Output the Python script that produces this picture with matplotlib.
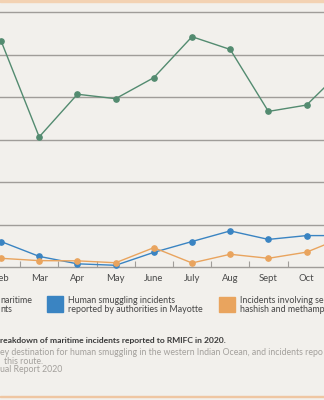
import numpy as np
import matplotlib.pyplot as plt
from matplotlib.patches import Rectangle

plt.rcParams["font.family"] = ["Lato", "DejaVu Sans"]

# data (gridline step = 20)
months = ["Feb", "Mar", "Apr", "May", "June", "July", "Aug", "Sept", "Oct", "Nov"]
total = [106.6, 61.3, 81.4, 79.3, 89.2, 108.5, 102.5, 73.3, 76.3, 94.0]
mayotte = [12.0, 5.0, 1.5, 0.8, 6.9, 12.0, 17.0, 13.0, 14.8, 14.8]
drugs = [4.1, 3.0, 2.9, 2.0, 9.1, 1.9, 6.0, 4.1, 7.0, 14.3]

green = "#538b70"
blue = "#3a84c2"
orange = "#e9a45e"
bg = "#f2f0ec"
grid_c = "#a09d99"

W, H = 324, 400
fig = plt.figure(figsize=(W / 100, H / 100), dpi=100, facecolor=bg)


def fx(x):
    return x / W


def fy(y):
    return 1 - y / H


# axes: baseline at y=267 px, top gridline at y=12.3 px, Feb at x=1 px
step = 38.2
x0 = 1 - 1 / step
x1 = 1 + (W - 1) / step
ax = fig.add_axes([0, fy(267), 1, fy(12.3) - fy(267)])
ax.set_facecolor("none")
for s in ax.spines.values():
    s.set_visible(False)

for g in range(20, 121, 20):
    ax.axhline(g, color=grid_c, lw=1.0, zorder=1, clip_on=False)
ax.axhline(0, color=grid_c, lw=1.0, zorder=1, clip_on=False)

x = np.arange(1, len(months) + 1)
for vals, c in [(total, green), (mayotte, blue), (drugs, orange)]:
    ax.plot(x, vals, color=c, lw=1.0, marker="o", ms=3.8, mec=c, mfc=c,
            zorder=3, clip_on=False)

ax.set_xticks(x)
ax.set_xticklabels(months, fontsize=6.8, color="#4a4a4a")
ax.tick_params(axis="x", which="major", length=0, pad=5)
ax.set_xticks(np.arange(0.5, len(months) + 1.5), minor=True)
ax.tick_params(axis="x", which="minor", length=4.5, width=0.8,
               direction="in", color=grid_c)
ax.set_yticks([])
ax.set_xlim(x0, x1)
ax.set_ylim(0, 120)

# top and bottom bands
fig.patches.append(Rectangle((0, fy(2.2)), 1, fy(0) - fy(2.2),
                             transform=fig.transFigure, color="#f3d2b3", zorder=0))
fig.patches.append(Rectangle((0, fy(397.2)), 1, fy(395.6) - fy(397.2),
                             transform=fig.transFigure, color="#efc6a2", zorder=0))

# legend
leg_txt = "#454545"
fs = 6.4
fig.text(fx(0), fy(300.5), "naritime", ha="left", va="center", fontsize=fs, color=leg_txt)
fig.text(fx(0), fy(309.5), "nts", ha="left", va="center", fontsize=fs, color=leg_txt)

fig.patches.append(Rectangle((fx(47), fy(312)), fx(16), fy(296) - fy(312),
                             transform=fig.transFigure, color=blue))
fig.text(fx(68.5), fy(300.5), "Human smuggling incidents", ha="left", va="center",
         fontsize=fs, color=leg_txt)
fig.text(fx(68.5), fy(309.5), "reported by authorities in Mayotte", ha="left", va="center",
         fontsize=fs, color=leg_txt)

fig.patches.append(Rectangle((fx(219), fy(312)), fx(15.5), fy(296.5) - fy(312),
                             transform=fig.transFigure, color=orange))
fig.text(fx(240.5), fy(300.5), "Incidents involving se", ha="left", va="center",
         fontsize=fs, color=leg_txt)
fig.text(fx(240.5), fy(309.5), "hashish and methamp", ha="left", va="center",
         fontsize=fs, color=leg_txt)

# caption and notes
fig.text(fx(0), fy(340), "reakdown of maritime incidents reported to RMIFC in 2020.",
         ha="left", va="center", fontsize=6.1, fontweight="bold", color="#3a3a3a")
note_c = "#a3a09c"
fig.text(fx(0), fy(352.7),
         "ey destination for human smuggling in the western Indian Ocean, and incidents repo",
         ha="left", va="center", fontsize=6.3, color=note_c)
fig.text(fx(4), fy(361), "this route.", ha="left", va="center", fontsize=6.3, color=note_c)
fig.text(fx(0), fy(370), "ual Report 2020", ha="left", va="center", fontsize=6.3, color=note_c)

fig.savefig("out.png", dpi=100, facecolor=bg)
